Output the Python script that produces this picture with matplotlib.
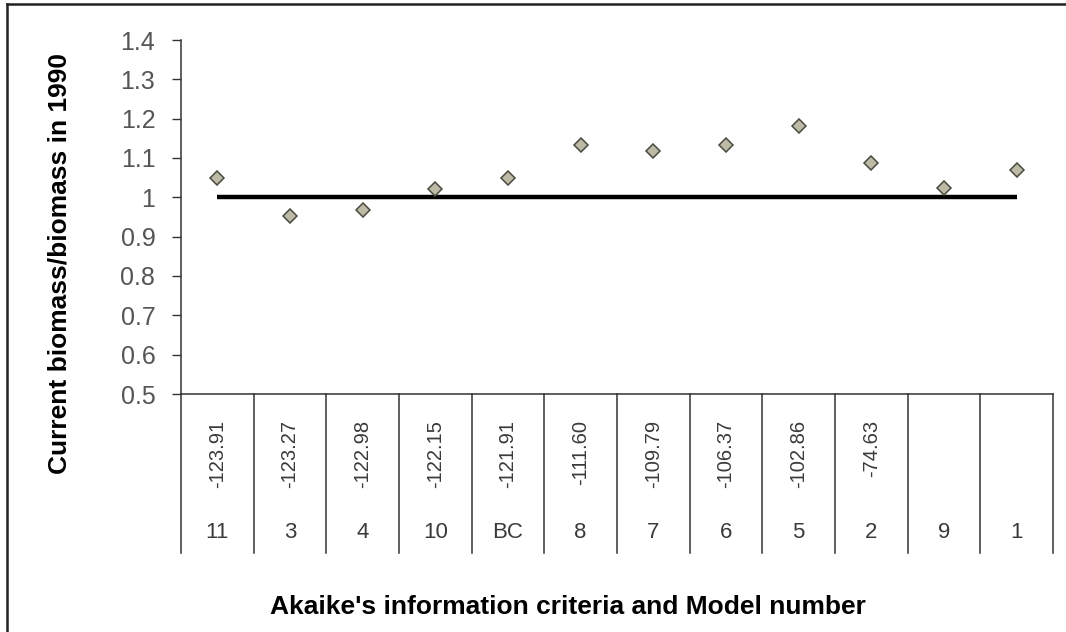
import matplotlib
matplotlib.use("Agg")
import matplotlib.pyplot as plt
from matplotlib.lines import Line2D

plt.rcParams["font.family"] = ["Liberation Sans", "DejaVu Sans"]

# model order as plotted, with AIC values (two models have none)
MODELS = ["11", "3", "4", "10", "BC", "8", "7", "6", "5", "2", "9", "1"]
AIC = ["-123.91", "-123.27", "-122.98", "-122.15", "-121.91", "-111.60",
       "-109.79", "-106.37", "-102.86", "-74.63", "", ""]
RATIO = [1.048, 0.952, 0.967, 1.022, 1.048, 1.132,
         1.117, 1.134, 1.181, 1.087, 1.025, 1.069]
REFERENCE = 1.0
Y_TICKS = [0.5, 0.6, 0.7, 0.8, 0.9, 1.0, 1.1, 1.2, 1.3, 1.4]
Y_TICK_LABELS = ["0.5", "0.6", "0.7", "0.8", "0.9", "1", "1.1", "1.2", "1.3", "1.4"]

W, H = 1066, 632
fig = plt.figure(figsize=(W / 100, H / 100), dpi=100)
ax = fig.add_axes([181 / W, 1 - 394 / H, (1053 - 181) / W, (394 - 40) / H])

x = list(range(len(MODELS)))
ax.plot([x[0], x[-1]], [REFERENCE, REFERENCE], color="black", lw=3.2,
        solid_capstyle="butt", zorder=2)
ax.plot(x, RATIO, ls="none", marker="D", ms=6.8, mfc="#bdbaa5",
        mec="#4a4a40", mew=1.1, zorder=3)

ax.set_xlim(-0.5, len(MODELS) - 0.5)
ax.set_ylim(0.5, 1.4)
ax.set_yticks(Y_TICKS)
ax.set_yticklabels(Y_TICK_LABELS)
ax.set_xticks([])
ax.tick_params(axis="y", direction="out", length=6.5, width=1.0,
               color="#333333", pad=12, labelsize=18, labelcolor="#555555")
for side in ("top", "right"):
    ax.spines[side].set_visible(False)
ax.spines["left"].set_color("#333333")
ax.spines["bottom"].set_color("#333333")
ax.spines["left"].set_linewidth(1.1)
ax.spines["bottom"].set_linewidth(1.1)

# data table below the plot
trans = ax.get_xaxis_transform()
table_bottom = (394 - 553) / (394 - 40)
for k in range(len(MODELS) + 1):
    ax.plot([k - 0.5, k - 0.5], [0, table_bottom], transform=trans,
            color="#333333", lw=1.1, clip_on=False)
aic_top = (394 - 420) / (394 - 40)
model_y = (394 - 533) / (394 - 40)
for i, (m, a) in enumerate(zip(MODELS, AIC)):
    if a:
        ax.text(i, aic_top, a, transform=trans, rotation=90, ha="center",
                va="top", fontsize=14.5, color="#3a3a3a")
    ax.text(i, model_y, m, transform=trans, ha="center", va="center",
            fontsize=16, color="#3a3a3a")

fig.text(568 / W, 1 - 607 / H, "Akaike's information criteria and Model number",
         ha="center", va="center", fontsize=19, fontweight="bold")
fig.text(60 / W, 1 - 263 / H, "Current biomass/biomass in 1990", rotation=90,
         ha="center", va="center", fontsize=19, fontweight="bold")

# outer chart frame (top and left edges visible)
fig.add_artist(Line2D([7 / W, 7 / W], [0, 1 - 4 / H], transform=fig.transFigure,
                      color="#222222", lw=1.8))
fig.add_artist(Line2D([7 / W, 1], [1 - 4 / H, 1 - 4 / H], transform=fig.transFigure,
                      color="#222222", lw=1.8))

fig.savefig("out.png", dpi=100)
